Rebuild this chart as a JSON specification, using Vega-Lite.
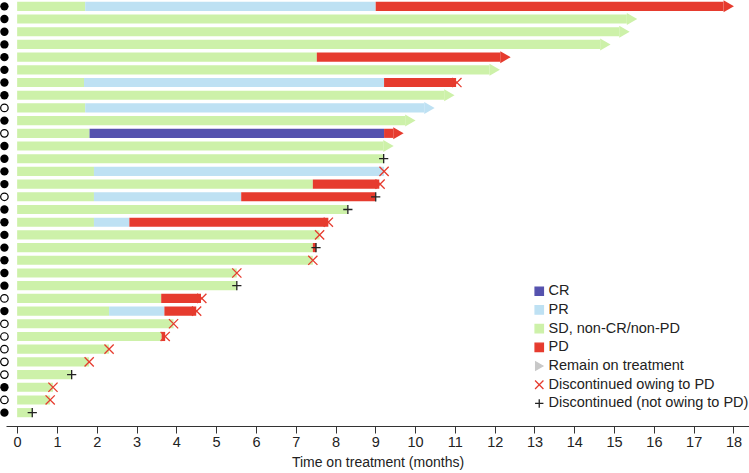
{
  "$schema": "https://vega.github.io/schema/vega-lite/v6.json",
  "width": 743,
  "height": 419,
  "autosize": {"type": "none"},
  "padding": {"left": 6, "top": 0, "right": 0, "bottom": 54},
  "config": {
    "font": "Liberation Sans",
    "view": {"stroke": null},
    "axis": {"labelFont": "Liberation Sans", "titleFont": "Liberation Sans"},
    "legend": {"labelFont": "Liberation Sans"}
  },
  "datasets": {
    "segments": [
      {"row": 1, "start": 0, "end": 1.71, "phase": "SD, non-CR/non-PD"},
      {"row": 1, "start": 1.71, "end": 9.01, "phase": "PR"},
      {"row": 1, "start": 9.01, "end": 17.75, "phase": "PD"},
      {"row": 2, "start": 0, "end": 15.32, "phase": "SD, non-CR/non-PD"},
      {"row": 3, "start": 0, "end": 15.13, "phase": "SD, non-CR/non-PD"},
      {"row": 4, "start": 0, "end": 14.65, "phase": "SD, non-CR/non-PD"},
      {"row": 5, "start": 0, "end": 7.53, "phase": "SD, non-CR/non-PD"},
      {"row": 5, "start": 7.53, "end": 12.14, "phase": "PD"},
      {"row": 6, "start": 0, "end": 11.87, "phase": "SD, non-CR/non-PD"},
      {"row": 7, "start": 0, "end": 1.68, "phase": "SD, non-CR/non-PD"},
      {"row": 7, "start": 1.68, "end": 9.22, "phase": "PR"},
      {"row": 7, "start": 9.22, "end": 11.03, "phase": "PD"},
      {"row": 8, "start": 0, "end": 10.73, "phase": "SD, non-CR/non-PD"},
      {"row": 9, "start": 0, "end": 1.71, "phase": "SD, non-CR/non-PD"},
      {"row": 9, "start": 1.71, "end": 10.23, "phase": "PR"},
      {"row": 10, "start": 0, "end": 9.75, "phase": "SD, non-CR/non-PD"},
      {"row": 11, "start": 0, "end": 1.82, "phase": "SD, non-CR/non-PD"},
      {"row": 11, "start": 1.82, "end": 9.22, "phase": "CR"},
      {"row": 11, "start": 9.22, "end": 9.45, "phase": "PD"},
      {"row": 12, "start": 0, "end": 9.2, "phase": "SD, non-CR/non-PD"},
      {"row": 13, "start": 0, "end": 9.21, "phase": "SD, non-CR/non-PD"},
      {"row": 14, "start": 0, "end": 1.93, "phase": "SD, non-CR/non-PD"},
      {"row": 14, "start": 1.93, "end": 9.22, "phase": "PR"},
      {"row": 15, "start": 0, "end": 7.43, "phase": "SD, non-CR/non-PD"},
      {"row": 15, "start": 7.43, "end": 9.1, "phase": "PD"},
      {"row": 16, "start": 0, "end": 1.93, "phase": "SD, non-CR/non-PD"},
      {"row": 16, "start": 1.93, "end": 5.63, "phase": "PR"},
      {"row": 16, "start": 5.63, "end": 9.0, "phase": "PD"},
      {"row": 17, "start": 0, "end": 8.3, "phase": "SD, non-CR/non-PD"},
      {"row": 18, "start": 0, "end": 1.93, "phase": "SD, non-CR/non-PD"},
      {"row": 18, "start": 1.93, "end": 2.82, "phase": "PR"},
      {"row": 18, "start": 2.82, "end": 7.82, "phase": "PD"},
      {"row": 19, "start": 0, "end": 7.6, "phase": "SD, non-CR/non-PD"},
      {"row": 20, "start": 0, "end": 7.43, "phase": "SD, non-CR/non-PD"},
      {"row": 20, "start": 7.43, "end": 7.51, "phase": "PD"},
      {"row": 21, "start": 0, "end": 7.43, "phase": "SD, non-CR/non-PD"},
      {"row": 22, "start": 0, "end": 5.52, "phase": "SD, non-CR/non-PD"},
      {"row": 23, "start": 0, "end": 5.52, "phase": "SD, non-CR/non-PD"},
      {"row": 24, "start": 0, "end": 3.62, "phase": "SD, non-CR/non-PD"},
      {"row": 24, "start": 3.62, "end": 4.62, "phase": "PD"},
      {"row": 25, "start": 0, "end": 2.31, "phase": "SD, non-CR/non-PD"},
      {"row": 25, "start": 2.31, "end": 3.7, "phase": "PR"},
      {"row": 25, "start": 3.7, "end": 4.5, "phase": "PD"},
      {"row": 26, "start": 0, "end": 3.93, "phase": "SD, non-CR/non-PD"},
      {"row": 27, "start": 0, "end": 3.63, "phase": "SD, non-CR/non-PD"},
      {"row": 27, "start": 3.63, "end": 3.72, "phase": "PD"},
      {"row": 28, "start": 0, "end": 2.31, "phase": "SD, non-CR/non-PD"},
      {"row": 29, "start": 0, "end": 1.81, "phase": "SD, non-CR/non-PD"},
      {"row": 30, "start": 0, "end": 1.37, "phase": "SD, non-CR/non-PD"},
      {"row": 31, "start": 0, "end": 0.9, "phase": "SD, non-CR/non-PD"},
      {"row": 32, "start": 0, "end": 0.83, "phase": "SD, non-CR/non-PD"},
      {"row": 33, "start": 0, "end": 0.38, "phase": "SD, non-CR/non-PD"}
    ],
    "arrows": [
      {"row": 1, "end": 17.75, "phase": "PD"},
      {"row": 2, "end": 15.32, "phase": "SD, non-CR/non-PD"},
      {"row": 3, "end": 15.13, "phase": "SD, non-CR/non-PD"},
      {"row": 4, "end": 14.65, "phase": "SD, non-CR/non-PD"},
      {"row": 5, "end": 12.14, "phase": "PD"},
      {"row": 6, "end": 11.87, "phase": "SD, non-CR/non-PD"},
      {"row": 8, "end": 10.73, "phase": "SD, non-CR/non-PD"},
      {"row": 9, "end": 10.23, "phase": "PR"},
      {"row": 10, "end": 9.75, "phase": "SD, non-CR/non-PD"},
      {"row": 11, "end": 9.45, "phase": "PD"},
      {"row": 12, "end": 9.2, "phase": "SD, non-CR/non-PD"}
    ],
    "markers": [
      {"row": 7, "time": 11.05, "marker": "Discontinued owing to PD"},
      {"row": 13, "time": 9.21, "marker": "Discontinued (not owing to PD)"},
      {"row": 14, "time": 9.22, "marker": "Discontinued owing to PD"},
      {"row": 15, "time": 9.12, "marker": "Discontinued owing to PD"},
      {"row": 16, "time": 9.01, "marker": "Discontinued (not owing to PD)"},
      {"row": 17, "time": 8.31, "marker": "Discontinued (not owing to PD)"},
      {"row": 18, "time": 7.82, "marker": "Discontinued owing to PD"},
      {"row": 19, "time": 7.6, "marker": "Discontinued owing to PD"},
      {"row": 20, "time": 7.51, "marker": "Discontinued (not owing to PD)"},
      {"row": 21, "time": 7.43, "marker": "Discontinued owing to PD"},
      {"row": 22, "time": 5.52, "marker": "Discontinued owing to PD"},
      {"row": 23, "time": 5.52, "marker": "Discontinued (not owing to PD)"},
      {"row": 24, "time": 4.64, "marker": "Discontinued owing to PD"},
      {"row": 25, "time": 4.51, "marker": "Discontinued owing to PD"},
      {"row": 26, "time": 3.93, "marker": "Discontinued owing to PD"},
      {"row": 27, "time": 3.72, "marker": "Discontinued owing to PD"},
      {"row": 28, "time": 2.31, "marker": "Discontinued owing to PD"},
      {"row": 29, "time": 1.81, "marker": "Discontinued owing to PD"},
      {"row": 30, "time": 1.37, "marker": "Discontinued (not owing to PD)"},
      {"row": 31, "time": 0.9, "marker": "Discontinued owing to PD"},
      {"row": 32, "time": 0.83, "marker": "Discontinued owing to PD"},
      {"row": 33, "time": 0.38, "marker": "Discontinued (not owing to PD)"}
    ],
    "dots": [
      {"row": 1, "dot": "filled"}, {"row": 2, "dot": "filled"}, {"row": 3, "dot": "filled"},
      {"row": 4, "dot": "filled"}, {"row": 5, "dot": "filled"}, {"row": 6, "dot": "filled"},
      {"row": 7, "dot": "filled"}, {"row": 8, "dot": "filled"}, {"row": 9, "dot": "open"},
      {"row": 10, "dot": "filled"}, {"row": 11, "dot": "open"}, {"row": 12, "dot": "filled"},
      {"row": 13, "dot": "filled"}, {"row": 14, "dot": "filled"}, {"row": 15, "dot": "filled"},
      {"row": 16, "dot": "open"}, {"row": 17, "dot": "filled"}, {"row": 18, "dot": "filled"},
      {"row": 19, "dot": "filled"}, {"row": 20, "dot": "filled"}, {"row": 21, "dot": "filled"},
      {"row": 22, "dot": "filled"}, {"row": 23, "dot": "filled"}, {"row": 24, "dot": "open"},
      {"row": 25, "dot": "filled"}, {"row": 26, "dot": "open"}, {"row": 27, "dot": "open"},
      {"row": 28, "dot": "open"}, {"row": 29, "dot": "open"}, {"row": 30, "dot": "open"},
      {"row": 31, "dot": "filled"}, {"row": 32, "dot": "open"}, {"row": 33, "dot": "filled"}
    ]
  },
  "encoding": {
    "y": {
      "field": "row",
      "type": "ordinal",
      "scale": {
        "domain": [1,2,3,4,5,6,7,8,9,10,11,12,13,14,15,16,17,18,19,20,21,22,23,24,25,26,27,28,29,30,31,32,33],
        "paddingInner": 0.28,
        "paddingOuter": 0.14
      },
      "axis": null
    }
  },
  "layer": [
    {
      "data": {"name": "segments"},
      "mark": {"type": "bar"},
      "encoding": {
        "x": {
          "field": "start",
          "type": "quantitative",
          "scale": {"domain": [-0.28, 18.39], "nice": false, "zero": false},
          "axis": {
            "title": "Time on treatment (months)",
            "values": [0,1,2,3,4,5,6,7,8,9,10,11,12,13,14,15,16,17,18],
            "format": "d",
            "grid": false,
            "offset": 7,
            "domainColor": "#333333",
            "tickColor": "#333333",
            "tickSize": 7,
            "labelFontSize": 14.5,
            "labelColor": "#222222",
            "labelPadding": 2,
            "titleFontSize": 14,
            "titleFontWeight": "normal",
            "titleColor": "#222222",
            "titlePadding": 7
          }
        },
        "x2": {"field": "end"},
        "fill": {
          "field": "phase",
          "type": "nominal",
          "scale": {
            "domain": ["CR", "PR", "SD, non-CR/non-PD", "PD", "Remain on treatment", "Discontinued owing to PD", "Discontinued (not owing to PD)"],
            "range": ["#5552AE", "#BEE1F3", "#CDF1A9", "#E63B2E", "#C8C8C8", "#E63B2E", "#222222"]
          },
          "legend": {
            "title": null,
            "orient": "none",
            "legendX": 526,
            "legendY": 284,
            "labelFontSize": 14.5,
            "labelColor": "#222222",
            "labelLimit": 300,
            "symbolSize": 70,
            "rowPadding": 2.7,
            "labelOffset": 2,
            "padding": 0,
            "encode": {
              "symbols": {
                "update": {
                  "fill": {"scale": "fill", "field": "value"},
                  "stroke": {"scale": "stroke", "field": "value"},
                  "strokeWidth": {"value": 1.3},
                  "shape": {"scale": "shape", "field": "value"},
                  "opacity": {"value": 1}
                }
              }
            }
          }
        }
      }
    },
    {
      "data": {"name": "arrows"},
      "mark": {"type": "point", "shape": "triangle-right", "filled": true, "size": 144, "xOffset": 5.2, "opacity": 1},
      "encoding": {
        "x": {"field": "end", "type": "quantitative"},
        "fill": {"field": "phase", "type": "nominal"}
      }
    },
    {
      "data": {"name": "markers"},
      "mark": {"type": "point", "filled": false, "size": 85, "strokeWidth": 1.3, "opacity": 1},
      "encoding": {
        "x": {"field": "time", "type": "quantitative"},
        "stroke": {
          "field": "marker",
          "type": "nominal",
          "scale": {
            "domain": ["CR", "PR", "SD, non-CR/non-PD", "PD", "Remain on treatment", "Discontinued owing to PD", "Discontinued (not owing to PD)"],
            "range": ["#5552AE", "#BEE1F3", "#CDF1A9", "#E63B2E", "#C8C8C8", "#E63B2E", "#222222"]
          }
        },
        "shape": {
          "field": "marker",
          "type": "nominal",
          "scale": {
            "domain": ["CR", "PR", "SD, non-CR/non-PD", "PD", "Remain on treatment", "Discontinued owing to PD", "Discontinued (not owing to PD)"],
            "range": ["square", "square", "square", "square", "triangle-right", "M-1,-1L1,1M1,-1L-1,1", "M-1,0L1,0M0,-1L0,1"]
          }
        }
      }
    },
    {
      "data": {"name": "dots"},
      "transform": [{"filter": "datum.dot === 'filled'"}],
      "mark": {"type": "point", "shape": "circle", "filled": true, "size": 70, "color": "#000000", "opacity": 1},
      "encoding": {"x": {"datum": -0.32, "type": "quantitative"}}
    },
    {
      "data": {"name": "dots"},
      "transform": [{"filter": "datum.dot === 'open'"}],
      "mark": {"type": "point", "shape": "circle", "filled": false, "size": 56, "stroke": "#000000", "strokeWidth": 1.2, "opacity": 1},
      "encoding": {"x": {"datum": -0.32, "type": "quantitative"}}
    }
  ]
}
